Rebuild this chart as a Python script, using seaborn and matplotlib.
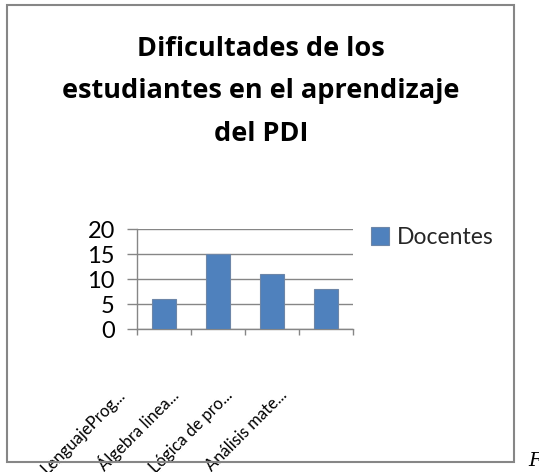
import matplotlib
matplotlib.use("Agg")
import matplotlib.pyplot as plt
import matplotlib.transforms as mtransforms
from matplotlib.patches import Rectangle
import seaborn as sns
import pandas as pd

# data
categorias = ["LenguajeProg...", "Álgebra linea...", "Lógica de pro...", "Análisis mate..."]
docentes = [6, 15, 11, 8]
serie = "Docentes"
titulo = ["Dificultades de los", "estudiantes en el aprendizaje", "del PDI"]
yticks = [0, 5, 10, 15, 20]

df = pd.DataFrame({"cat": categorias, "val": docentes})

sns.set_theme(style="white")
plt.rcParams["font.family"] = ["Lato", "DejaVu Sans"]

W, H = 539, 472
fig = plt.figure(figsize=(W / 100, H / 100), dpi=100)
gray = "#868686"
blue = "#4F81BD"

# plot area in pixel coords of the reference
x0, x1, ytop, ybot = 137, 353, 229.3, 329.3
ax = fig.add_axes([x0 / W, 1 - ybot / H, (x1 - x0) / W, (ybot - ytop) / H])

sns.barplot(data=df, x="cat", y="val", color=blue, width=0.43, saturation=1,
            edgecolor="#6d86a8", linewidth=0.8, label=serie, ax=ax, zorder=3)

ax.set_xlim(-0.5, len(categorias) - 0.5)
ax.set_ylim(0, 20)
ax.set_yticks(yticks)
ax.set_xticks([i - 0.5 for i in range(len(categorias) + 1)])
ax.set_xticklabels([])
ax.set_xlabel("")
ax.set_ylabel("")
ax.yaxis.grid(True, color=gray, linewidth=1)
ax.set_axisbelow(True)
for s in ["top", "right"]:
    ax.spines[s].set_visible(False)
for s in ["left", "bottom"]:
    ax.spines[s].set_color(gray)
    ax.spines[s].set_linewidth(1)
ax.tick_params(axis="y", direction="out", length=7, width=1, color=gray,
               labelsize=17, pad=9, left=True)
ax.tick_params(axis="x", direction="out", length=4, width=1, color=gray, bottom=True)
for lab in ax.get_yticklabels():
    lab.set_color("black")

# rotated category labels, shifted like the reference
off = mtransforms.ScaledTranslation(-0.38, -0.67, fig.dpi_scale_trans)
trans = mtransforms.blended_transform_factory(ax.transData, ax.transAxes) + off
for i, c in enumerate(categorias):
    ax.text(i, 0, c, transform=trans, rotation=45, rotation_mode="anchor",
            ha="right", va="baseline", fontsize=12, color="black")

# legend
leg = ax.legend(loc="upper left", bbox_to_anchor=(371 / W, 1 - 227 / H),
                bbox_transform=fig.transFigure, frameon=False, fontsize=16.5,
                handlelength=0.78, handleheight=0.78, handletextpad=0.35,
                borderpad=0, borderaxespad=0)

# title, three centered lines
for k, line in enumerate(titulo):
    fig.text(261 / W, 1 - (56 + 42.5 * k) / H, line, ha="center", va="baseline",
             fontsize=19.5, fontweight="bold", family=["Open Sans", "DejaVu Sans"],
             color="black")

# chart border
fig.patches.append(Rectangle((7 / W, 1 - 462 / H), (514 - 7) / W, (462 - 5) / H,
                             transform=fig.transFigure, fill=False,
                             edgecolor=gray, linewidth=1.5))

# cropped caption letter at the corner
fig.text(528 / W, 1 - 452 / H, "F", ha="left", va="top", fontsize=14,
         style="italic", family="DejaVu Serif", color="black")

fig.savefig("out.png", dpi=100)
